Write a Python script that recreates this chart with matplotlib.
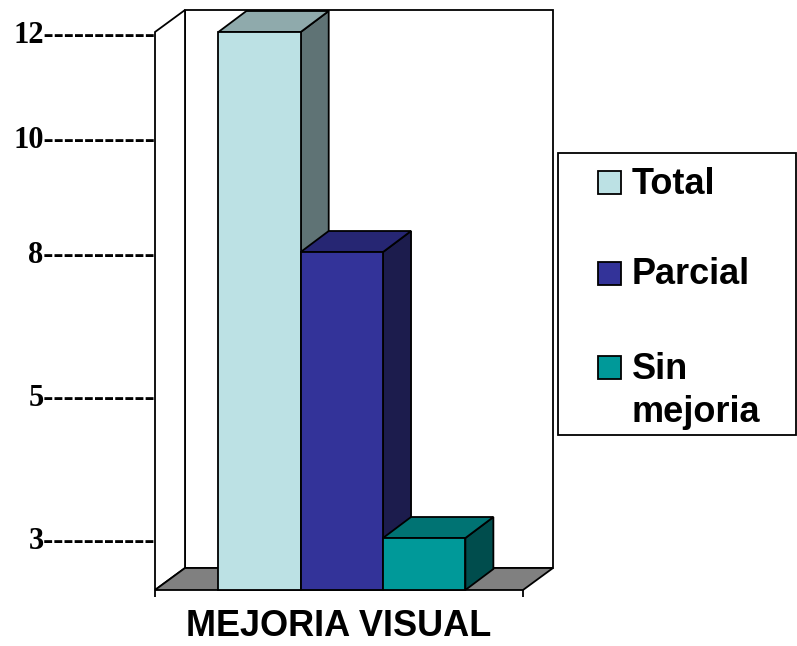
import numpy as np
import matplotlib
matplotlib.use('Agg')
import matplotlib.pyplot as plt
from matplotlib.patches import Polygon, Rectangle

categories = ['Total', 'Parcial', 'Sin\nmejoria']
values = [12, 8, 3]
front_colors = ['#bce1e4', '#333399', '#009999']
top_colors = ['#8faaac', '#262673', '#007373']
side_colors = ['#5f7375', '#1c1c4d', '#004d4d']

tick_values = [3, 5, 8, 10, 12]
xlabel = 'MEJORIA VISUAL'

# uneven value axis: height above the floor (px) for each ticked value
scale_vals = [0, 3, 5, 8, 10, 12]
scale_pos = [0, 52, 195, 338, 453, 558]

W, H = 797, 646
fig = plt.figure(figsize=(W / 100, H / 100), dpi=100)
ax = fig.add_axes([155 / W, 1 - 590 / H, 368 / W, 558 / H])
ax.patch.set_visible(False)


def fwd(v):
    return np.interp(v, scale_vals, scale_pos)


def inv(p):
    return np.interp(p, scale_pos, scale_vals)


ax.set_yscale('function', functions=(fwd, inv))
ax.set_ylim(0, 12)
ax.set_xlim(-1.27, 3.2)
for s in ax.spines.values():
    s.set_visible(False)

# depth offsets in axes fraction
WDX, WDY = 30 / 368, 22 / 558
BDX, BDY = 28 / 368, 21 / 558
LW = 1.3

# walls and floor
ax.add_patch(Rectangle((WDX, WDY), 1, 1, transform=ax.transAxes, fc='white',
                       ec='black', lw=LW, zorder=1, clip_on=False))
ax.add_patch(Polygon([(0, 0), (0, 1), (WDX, 1 + WDY), (WDX, WDY)], closed=True,
                     transform=ax.transAxes, fc='white', ec='black', lw=LW,
                     zorder=1.5, clip_on=False))
ax.add_patch(Polygon([(0, 0), (1, 0), (1 + WDX, WDY), (WDX, WDY)], closed=True,
                     transform=ax.transAxes, fc='#808080', ec='black', lw=LW,
                     zorder=2, clip_on=False))

x = np.arange(len(values))
bars = ax.bar(x, values, width=1, color=front_colors, edgecolor='black',
              linewidth=LW, clip_on=False)


def ax_pt(px, v):
    return ax.transAxes.inverted().transform(ax.transData.transform((px, v)))


for i, (b, v) in enumerate(zip(bars, values)):
    b.set_zorder(4 + 2 * i)
    x0, x1 = i - 0.5, i + 0.5
    a0, a1, b1 = ax_pt(x0, v), ax_pt(x1, v), ax_pt(x1, 0)
    top = [a0, a1, a1 + (BDX, BDY), a0 + (BDX, BDY)]
    side = [b1, a1, a1 + (BDX, BDY), b1 + (BDX, BDY)]
    for pts, c in ((side, side_colors[i]), (top, top_colors[i])):
        ax.add_patch(Polygon(pts, closed=True, transform=ax.transAxes, fc=c,
                             ec='black', lw=LW, zorder=3 + 2 * i, clip_on=False))

ax.set_yticks(tick_values, labels=[f'{t}' + '-' * 11 for t in tick_values])
ax.tick_params(axis='y', length=0, pad=0)
for lab in ax.get_yticklabels():
    lab.set_fontfamily('Liberation Serif')
    lab.set_fontweight('bold')
    lab.set_fontsize(22)

ax.set_xticks(ax.get_xlim(), labels=['', ''])
ax.tick_params(axis='x', length=5, width=LW, direction='out')
ax.set_xlabel(xlabel, fontsize=26, fontweight='bold', family='Liberation Sans',
              labelpad=5)


# legend box drawn in pixel space
def fp(px, py):
    return px / W, 1 - py / H


fig.add_artist(Rectangle(fp(558, 435), 238 / W, 282 / H, transform=fig.transFigure,
                         fc='white', ec='black', lw=LW))
rows = [182, 273, 367]
for lab, c, yc in zip(categories, front_colors, rows):
    fig.add_artist(Rectangle(fp(598, yc + 11.5), 23 / W, 23 / H,
                             transform=fig.transFigure, fc=c, ec='black', lw=LW))
    lines = lab.split('\n')
    for k, line in enumerate(lines):
        fig.text(*fp(632, yc + 2 + 43 * k), line, fontsize=26, fontweight='bold',
                 family='Liberation Sans', va='center', ha='left')

fig.savefig('out.png', dpi=100)
